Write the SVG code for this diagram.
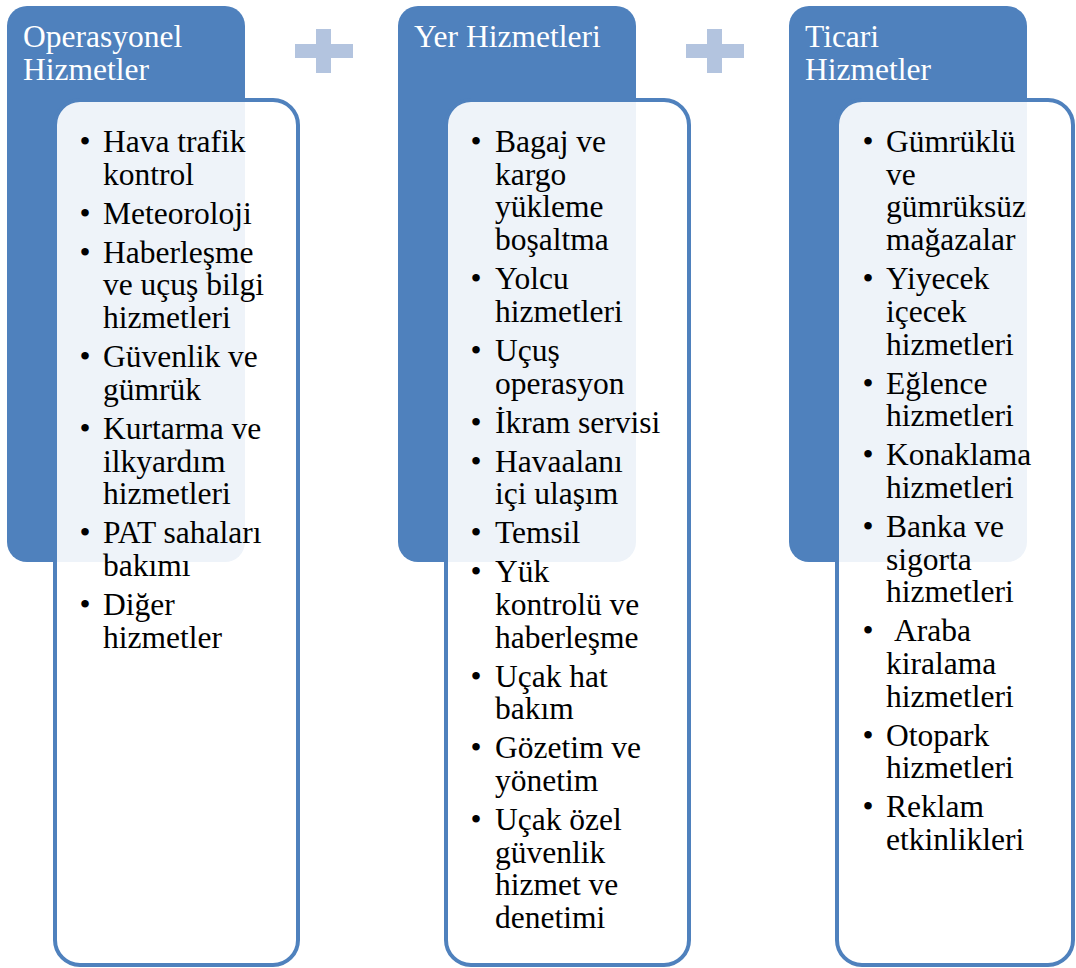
<svg xmlns="http://www.w3.org/2000/svg" width="1076" height="968" viewBox="0 0 1076 968">
<style>
.hdr{fill:#4F81BD}
.box{fill:#FFFFFF;fill-opacity:0.9;stroke:#4F81BD;stroke-width:4}
.plus{fill:#B3C4DF}
.ht{font-size:31.5px;fill:#FFFFFF}
.bt{font-size:31.5px;fill:#000000}
.bl{font-size:31.5px;fill:#000000;text-anchor:middle}
</style>
<rect width="1076" height="968" fill="#FFFFFF"/>
<g id="connectors">
<g id="plus1"><rect class="plus" x="295" y="44" width="58" height="14"/><rect class="plus" x="316" y="29" width="15" height="44"/></g>
<g id="plus2"><rect class="plus" x="686" y="44" width="58" height="14"/><rect class="plus" x="707" y="29" width="15" height="44"/></g>
</g>
<g font-family="Liberation Serif, DejaVu Serif, serif">
<g id="col1">
<rect class="hdr" x="7" y="6" width="238" height="556" rx="20"/>
<text class="ht" x="23" y="47">Operasyonel</text>
<text class="ht" x="23" y="80">Hizmetler</text>
<rect class="box" x="55" y="100" width="243" height="865" rx="25"/>
<g class="bl">
<text x="85" y="152">•</text><text x="85" y="223.7">•</text><text x="85" y="262.7">•</text><text x="85" y="367.1">•</text><text x="85" y="438.8">•</text><text x="85" y="543.2">•</text><text x="85" y="614.9">•</text>
</g>
<g class="bt">
<text x="103" y="152">Hava trafik</text>
<text x="103" y="184.7">kontrol</text>
<text x="103" y="223.7">Meteoroloji</text>
<text x="103" y="262.7">Haberleşme</text>
<text x="103" y="295.4">ve uçuş bilgi</text>
<text x="103" y="328.1">hizmetleri</text>
<text x="103" y="367.1">Güvenlik ve</text>
<text x="103" y="399.8">gümrük</text>
<text x="103" y="438.8">Kurtarma ve</text>
<text x="103" y="471.5">ilkyardım</text>
<text x="103" y="504.2">hizmetleri</text>
<text x="103" y="543.2">PAT sahaları</text>
<text x="103" y="575.9">bakımı</text>
<text x="103" y="614.9">Diğer</text>
<text x="103" y="647.6">hizmetler</text>
</g>
</g>
<g id="col2">
<rect class="hdr" x="398" y="6" width="238" height="556" rx="20"/>
<text class="ht" x="414" y="47">Yer Hizmetleri</text>
<rect class="box" x="446" y="100" width="243" height="865" rx="25"/>
<g class="bl">
<text x="476" y="152">•</text><text x="476" y="289.1">•</text><text x="476" y="360.8">•</text><text x="476" y="432.5">•</text><text x="476" y="471.5">•</text><text x="476" y="543.2">•</text><text x="476" y="582.2">•</text><text x="476" y="686.6">•</text><text x="476" y="758.3">•</text><text x="476" y="830">•</text>
</g>
<g class="bt">
<text x="495" y="152">Bagaj ve</text>
<text x="495" y="184.7">kargo</text>
<text x="495" y="217.4">yükleme</text>
<text x="495" y="250.1">boşaltma</text>
<text x="495" y="289.1">Yolcu</text>
<text x="495" y="321.8">hizmetleri</text>
<text x="495" y="360.8">Uçuş</text>
<text x="495" y="393.5">operasyon</text>
<text x="495" y="432.5">İkram servisi</text>
<text x="495" y="471.5">Havaalanı</text>
<text x="495" y="504.2">içi ulaşım</text>
<text x="495" y="543.2">Temsil</text>
<text x="495" y="582.2">Yük</text>
<text x="495" y="614.9">kontrolü ve</text>
<text x="495" y="647.6">haberleşme</text>
<text x="495" y="686.6">Uçak hat</text>
<text x="495" y="719.3">bakım</text>
<text x="495" y="758.3">Gözetim ve</text>
<text x="495" y="791">yönetim</text>
<text x="495" y="830">Uçak özel</text>
<text x="495" y="862.7">güvenlik</text>
<text x="495" y="895.4">hizmet ve</text>
<text x="495" y="928.1">denetimi</text>
</g>
</g>
<g id="col3">
<rect class="hdr" x="789" y="6" width="238" height="556" rx="20"/>
<text class="ht" x="805" y="47">Ticari</text>
<text class="ht" x="805" y="80">Hizmetler</text>
<rect class="box" x="837" y="100" width="236" height="865" rx="25"/>
<g class="bl">
<text x="868" y="152">•</text><text x="868" y="289.1">•</text><text x="868" y="393.5">•</text><text x="868" y="465.2">•</text><text x="868" y="536.9">•</text><text x="868" y="641.3">•</text><text x="868" y="745.7">•</text><text x="868" y="817.4">•</text>
</g>
<g class="bt">
<text x="886" y="152">Gümrüklü</text>
<text x="886" y="184.7">ve</text>
<text x="886" y="217.4">gümrüksüz</text>
<text x="886" y="250.1">mağazalar</text>
<text x="886" y="289.1">Yiyecek</text>
<text x="886" y="321.8">içecek</text>
<text x="886" y="354.5">hizmetleri</text>
<text x="886" y="393.5">Eğlence</text>
<text x="886" y="426.2">hizmetleri</text>
<text x="886" y="465.2">Konaklama</text>
<text x="886" y="497.9">hizmetleri</text>
<text x="886" y="536.9">Banka ve</text>
<text x="886" y="569.6">sigorta</text>
<text x="886" y="602.3">hizmetleri</text>
<text x="894" y="641.3">Araba</text>
<text x="886" y="674">kiralama</text>
<text x="886" y="706.7">hizmetleri</text>
<text x="886" y="745.7">Otopark</text>
<text x="886" y="778.4">hizmetleri</text>
<text x="886" y="817.4">Reklam</text>
<text x="886" y="850.1">etkinlikleri</text>
</g>
</g>
</g>
</svg>
